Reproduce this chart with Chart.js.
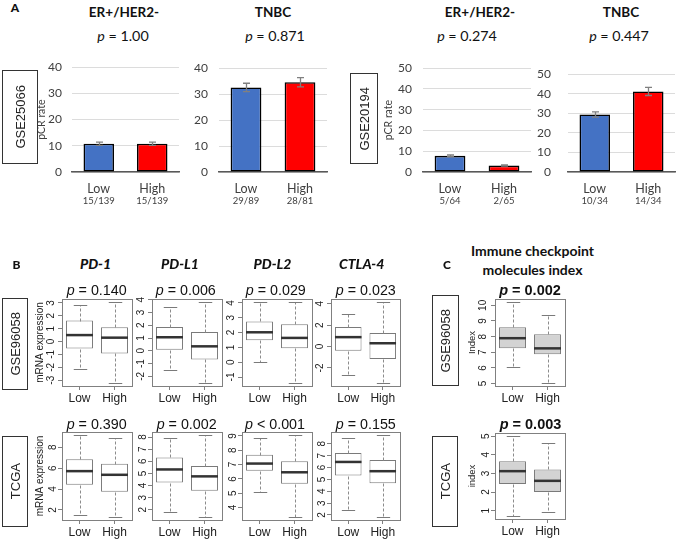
<!DOCTYPE html>
<html>
<head>
<meta charset="utf-8">
<script src="https://cdn.jsdelivr.net/npm/chart.js@4.4.1/dist/chart.umd.min.js"></script>
<style>
html, body { margin: 0; padding: 0; background: #fff; }
#stage { position: relative; width: 676px; height: 540px; overflow: hidden; }
#stage canvas { position: absolute; }
.lbl { position: absolute; transform: translate(-50%, -50%); white-space: nowrap; line-height: 1; color: #111; }
.tag { position: absolute; box-sizing: border-box; border: 1.5px solid #333; display: flex; align-items: center; justify-content: center; }
.tag span { writing-mode: vertical-rl; transform: rotate(180deg); font: 13px 'Liberation Sans', Arial, sans-serif; color: #222; }
</style>
</head>
<body>
<div id="stage"></div>
<script>
// ---- panel A: pCR rate (%) by group, with error bars
const groups = ['Low', 'High'];
const gse25066Er = [10.8, 10.8];
const gse25066ErErr = [0.6, 0.6];
const gse25066ErN = ['15/139', '15/139'];
const gse25066Tn = [32.6, 34.6];
const gse25066TnErr = [1.6, 1.8];
const gse25066TnN = ['29/89', '28/81'];
const gse20194Er = [7.8, 3.1];
const gse20194ErErr = [0.4, 0.3];
const gse20194ErN = ['5/64', '2/65'];
const gse20194Tn = [29.4, 41.2];
const gse20194TnErr = [1.3, 2.1];
const gse20194TnN = ['10/34', '14/34'];

// ---- panels B/C: box stats [min, q1, median, q3, max] for Low / High
const pd1Gse = [[-2.13, -0.55, 0.5, 1.63, 2.85], [-3.2, -0.92, 0.3, 1.1, 3.05]];
const pdl1Gse = [[-1.47, 0.08, 1.06, 1.86, 3.46], [-2.5, -0.67, 0.35, 1.47, 3.8]];
const pdl2Gse = [[0.0, 1.48, 2.02, 2.75, 4.05], [-1.39, 0.95, 1.64, 2.56, 4.05]];
const ctla4Gse = [[-2.65, -0.38, 0.88, 1.83, 3.0], [-3.38, -1.17, 0.31, 1.26, 4.14]];
const pd1Tcga = [[1.47, 4.41, 5.71, 6.85, 9.14], [1.35, 3.73, 5.36, 6.42, 8.9]];
const pdl1Tcga = [[1.8, 4.25, 5.33, 6.32, 7.93], [1.43, 3.58, 4.76, 5.61, 8.15]];
const pdl2Tcga = [[5.1, 6.57, 7.07, 7.68, 8.85], [3.35, 5.65, 6.46, 7.24, 9.05]];
const ctla4Tcga = [[2.43, 5.32, 6.47, 7.22, 8.52], [1.85, 4.68, 5.69, 6.64, 8.72]];
const icmGse = [[6.05, 7.25, 7.9, 8.6, 10.2], [5.05, 6.88, 7.25, 8.15, 9.4]];
const icmTcga = [[0.72, 2.43, 3.12, 3.65, 5.0], [0.95, 2.0, 2.6, 3.21, 4.64]];

// tick labels
const pd1GseTicks = [-3, -2, -1, 0, 1, 2, 3];
const pdl1GseTicks = [-2, -1, 0, 1, 2, 3, 4];
const pdl2GseTicks = [-1, 0, 1, 2, 3, 4];
const ctla4GseTicks = [-2, 0, 2, 4];
const pd1TcgaTicks = [2, 4, 6, 8];
const pdl1TcgaTicks = [2, 3, 4, 5, 6, 7, 8];
const pdl2TcgaTicks = [4, 5, 6, 7, 8, 9];
const ctla4TcgaTicks = [2, 3, 4, 5, 6, 7, 8];
const icmGseTicks = [5, 6, 7, 8, 9, 10];
const icmTcgaTicks = [1, 2, 3, 4, 5];

// text
const subtypes = ['ER+/HER2-', 'TNBC', 'ER+/HER2-', 'TNBC'];
const pA = ['= 1.00', '= 0.871', '= 0.274', '= 0.447'];
const genes = ['PD-1', 'PD-L1', 'PD-L2', 'CTLA-4'];
const pGse = ['= 0.140', '= 0.006', '= 0.029', '= 0.023'];
const pTcga = ['= 0.390', '= 0.002', '< 0.001', '= 0.155'];

Chart.defaults.animation = false;
Chart.defaults.font.family = 'Lato';
Chart.defaults.plugins.legend.display = false;
Chart.defaults.plugins.tooltip.enabled = false;

const stage = document.getElementById('stage');

// area = chart area [x0, y0, x1, y1] on the page, m = room for [left, top, right, bottom]
function makeCanvas(area, m) {
    const c = document.createElement('canvas');
    const w = area[2] - area[0] + m[0] + m[2];
    const h = area[3] - area[1] + m[1] + m[3];
    c.width = w;
    c.height = h;
    c.style.left = (area[0] - m[0]) + 'px';
    c.style.top = (area[1] - m[1]) + 'px';
    c.style.width = w + 'px';
    c.style.height = h + 'px';
    stage.appendChild(c);
    return c;
}

function text(html, x, y, font) {
    const d = document.createElement('div');
    d.className = 'lbl';
    d.innerHTML = html;
    d.style.left = x + 'px';
    d.style.top = y + 'px';
    d.style.font = font;
    stage.appendChild(d);
}

function tag(label, x0, y0, x1, y1) {
    const d = document.createElement('div');
    d.className = 'tag';
    d.style.left = x0 + 'px';
    d.style.top = y0 + 'px';
    d.style.width = (x1 - x0) + 'px';
    d.style.height = (y1 - y0) + 'px';
    d.innerHTML = '<span>' + label + '</span>';
    stage.appendChild(d);
}

const errorBars = {
    id: 'errorBars',
    afterDatasetsDraw(chart) {
        const ds = chart.data.datasets[0];
        const {ctx, chartArea} = chart;
        const y = chart.scales.y;
        const x = chart.scales.x;
        ctx.save();
        ctx.strokeStyle = '#808080';
        ctx.lineWidth = 1.3;
        ds.data.forEach((v, i) => {
            const px = Math.round(x.getPixelForValue(i)) + 0.5;
            const top = y.getPixelForValue(v + ds.errors[i]);
            const bot = y.getPixelForValue(v - ds.errors[i]);
            ctx.beginPath();
            ctx.moveTo(px, top); ctx.lineTo(px, bot);
            ctx.moveTo(px - 3.5, top); ctx.lineTo(px + 3.5, top);
            ctx.moveTo(px - 3.5, bot); ctx.lineTo(px + 3.5, bot);
            ctx.stroke();
        });
        // group sizes under the labels
        ctx.fillStyle = '#404040';
        ctx.font = '9.5px Lato';
        ctx.textAlign = 'center';
        ctx.textBaseline = 'middle';
        ds.fractions.forEach((f, i) => {
            ctx.fillText(f, x.getPixelForValue(i), chartArea.bottom + 29);
        });
        ctx.restore();
    }
};

const boxWhiskers = {
    id: 'boxWhiskers',
    afterDatasetsDraw(chart) {
        const {ctx, chartArea: a} = chart;
        const y = chart.scales.y;
        const stats = chart.data.datasets[0].stats;
        const py = v => Math.round(y.getPixelForValue(v)) + 0.5;
        ctx.save();
        chart.getDatasetMeta(0).data.forEach((bar, i) => {
            const [lo, q1, med, q3, hi] = stats[i];
            const x = Math.round(bar.x) + 0.5;
            const hw = bar.width / 2;
            ctx.strokeStyle = '#8c8c8c';
            ctx.lineWidth = 1;
            ctx.setLineDash([3, 2]);
            ctx.beginPath();
            ctx.moveTo(x, py(q3)); ctx.lineTo(x, py(hi));
            ctx.moveTo(x, py(q1)); ctx.lineTo(x, py(lo));
            ctx.stroke();
            ctx.setLineDash([]);
            ctx.strokeStyle = '#7a7a7a';
            ctx.beginPath();
            ctx.moveTo(x - hw / 2, py(hi)); ctx.lineTo(x + hw / 2, py(hi));
            ctx.moveTo(x - hw / 2, py(lo)); ctx.lineTo(x + hw / 2, py(lo));
            ctx.stroke();
            ctx.strokeStyle = '#333';
            ctx.lineWidth = 2.5;
            ctx.beginPath();
            ctx.moveTo(bar.x - hw, y.getPixelForValue(med));
            ctx.lineTo(bar.x + hw, y.getPixelForValue(med));
            ctx.stroke();
        });
        ctx.strokeStyle = '#808080';
        ctx.lineWidth = 1;
        ctx.strokeRect(Math.round(a.left) + 0.5, Math.round(a.top) + 0.5, Math.round(a.width), Math.round(a.height));
        ctx.restore();
    }
};

function barChart(area, m, values, errors, fractions, yMax, tickPad, yTitle, titlePad) {
    new Chart(makeCanvas(area, m), {
        type: 'bar',
        data: {
            labels: groups,
            datasets: [{
                data: values,
                errors,
                fractions,
                backgroundColor: ['#4472c4', '#ff0000'],
                borderColor: '#000',
                borderWidth: 1.6,
                borderSkipped: false,
                barPercentage: 0.57,
                categoryPercentage: 1
            }]
        },
        options: {
            responsive: false,
            layout: {padding: {left: 0, top: m[1], right: m[2], bottom: 0}},
            scales: {
                x: {
                    grid: {display: false, drawTicks: false},
                    border: {display: true, color: '#595959', width: 1.5},
                    ticks: {padding: 9, color: '#404040', font: {size: 12.5}},
                    afterFit: s => { s.height = m[3]; }
                },
                y: {
                    min: 0,
                    max: yMax,
                    ticks: {stepSize: 10, padding: tickPad, color: '#404040', font: {size: 12}},
                    grid: {color: '#dcdcdc', drawTicks: false},
                    border: {display: false},
                    title: {display: !!yTitle, text: yTitle, color: '#404040', font: {size: 10.5}, padding: {top: titlePad, bottom: 0}},
                    afterFit: s => { s.width = m[0]; }
                }
            }
        },
        plugins: [errorBars]
    });
}

function boxChart(area, m, stats, ticks, fill, yTitle, titlePad, titleSize) {
    const lo = Math.min(...stats.map(s => s[0]));
    const hi = Math.max(...stats.map(s => s[4]));
    const ext = (hi - lo) * 0.04;
    new Chart(makeCanvas(area, m), {
        type: 'bar',
        data: {
            labels: groups,
            datasets: [{
                data: stats.map(s => [s[1], s[3]]),
                stats,
                backgroundColor: fill,
                borderColor: '#7a7a7a',
                borderWidth: 1,
                borderSkipped: false,
                barPercentage: 0.77,
                categoryPercentage: 1
            }]
        },
        options: {
            responsive: false,
            layout: {padding: {left: 0, top: m[1], right: m[2], bottom: 0}},
            scales: {
                x: {
                    grid: {offset: false, drawOnChartArea: false, tickLength: 4, color: '#808080'},
                    border: {display: false},
                    ticks: {padding: 1, color: '#222', font: {family: 'Liberation Sans', size: 12}},
                    afterFit: s => { s.height = m[3]; }
                },
                y: {
                    min: lo - ext,
                    max: hi + ext,
                    afterBuildTicks: s => { s.ticks = ticks.map(v => ({value: v})); },
                    grid: {drawOnChartArea: false, tickLength: 4, color: '#808080'},
                    border: {display: false},
                    ticks: {autoSkip: false, minRotation: 90, maxRotation: 90, crossAlign: 'center', padding: 2,
                        color: '#222', font: {family: 'Liberation Sans', size: 10}},
                    title: {display: !!yTitle, text: yTitle, color: '#222',
                        font: {family: 'Liberation Sans', size: titleSize || 10}, padding: {top: titlePad || 0, bottom: 0}},
                    afterFit: s => { s.width = m[0]; }
                }
            }
        },
        plugins: [boxWhiskers]
    });
}

// ---- panel A
barChart([72, 63, 179, 172], [42, 13, 3, 43], gse25066Er, gse25066ErErr, gse25066ErN, 40, 10, 'pCR rate', 5.7);
barChart([219, 63, 327, 172], [34, 13, 3, 43], gse25066Tn, gse25066TnErr, gse25066TnN, 40, 11);
barChart([423, 63, 531, 172], [46, 13, 3, 43], gse20194Er, gse20194ErErr, gse20194ErN, 50, 11, 'pCR rate', 5.7);
barChart([568, 63, 675, 172], [33, 13, 1, 43], gse20194Tn, gse20194TnErr, gse20194TnN, 50, 17);

text('<b>A</b>', 15, 7, 'bold 12px Lato');
[124, 273, 480, 621].forEach((x, i) => text(subtypes[i], x, 12, 'bold 13.5px Lato'));
[123, 275, 467, 619].forEach((x, i) => text('<i>p</i> ' + pA[i], x, 35, '14.3px Lato'));
tag('GSE25066', 2, 70, 38, 164);
tag('GSE20194', 350, 73, 378, 164);

// ---- panel B
const white = '#ffffff';
boxChart([62, 299, 132, 386], [32, 10, 4, 30], pd1Gse, pd1GseTicks, white, 'mRNA expression', 4);
boxChart([152, 299, 222, 386], [20, 10, 4, 30], pdl1Gse, pdl1GseTicks, white);
boxChart([242, 299, 312, 386], [20, 10, 4, 30], pdl2Gse, pdl2GseTicks, white);
boxChart([331, 299, 400, 386], [20, 10, 4, 30], ctla4Gse, ctla4GseTicks, white);
boxChart([62, 432, 132, 520], [32, 10, 4, 30], pd1Tcga, pd1TcgaTicks, white, 'mRNA expression', 4);
boxChart([152, 432, 222, 520], [20, 10, 4, 30], pdl1Tcga, pdl1TcgaTicks, white);
boxChart([242, 432, 312, 520], [20, 10, 4, 30], pdl2Tcga, pdl2TcgaTicks, white);
boxChart([331, 432, 400, 520], [20, 10, 4, 30], ctla4Tcga, ctla4TcgaTicks, white);

text('<b>B</b>', 16.5, 264, 'bold 12px Lato');
[95.5, 180, 272.5, 361.7].forEach((x, i) => text('<b><i>' + genes[i] + '</i></b>', x, 263, 'bold italic 14px Lato'));
[96.7, 185.8, 275.8, 365.8].forEach((x, i) => text('<i>p</i> ' + pGse[i], x, 290, "14.3px 'Liberation Sans'"));
[96.7, 186.7, 275, 365.8].forEach((x, i) => text('<i>p</i> ' + pTcga[i], x, 423.5, "14.3px 'Liberation Sans'"));
tag('GSE96058', 2, 298, 28, 390);
tag('TCGA', 2, 436, 28, 527);

// ---- panel C
const grey = '#d3d3d3';
boxChart([495, 299, 565, 386], [35, 10, 4, 30], icmGse, icmGseTicks, grey, 'Index', 6.3, 9.5);
boxChart([495, 433, 565, 519], [35, 10, 4, 30], icmTcga, icmTcgaTicks, grey, 'index', 6.3, 9.5);

text('<b>C</b>', 447, 264, 'bold 12px Lato');
text('Immune checkpoint', 532.5, 250, 'bold 14px Lato');
text('molecules index', 532.5, 269, 'bold 14px Lato');
text('<i>p</i> = 0.002', 530, 290, "bold 14.5px 'Liberation Sans'");
text('<i>p</i> = 0.003', 530.5, 424, "bold 14.5px 'Liberation Sans'");
tag('GSE96058', 432, 295, 459, 386);
tag('TCGA', 432, 436, 458, 527);
</script>
</body>
</html>
